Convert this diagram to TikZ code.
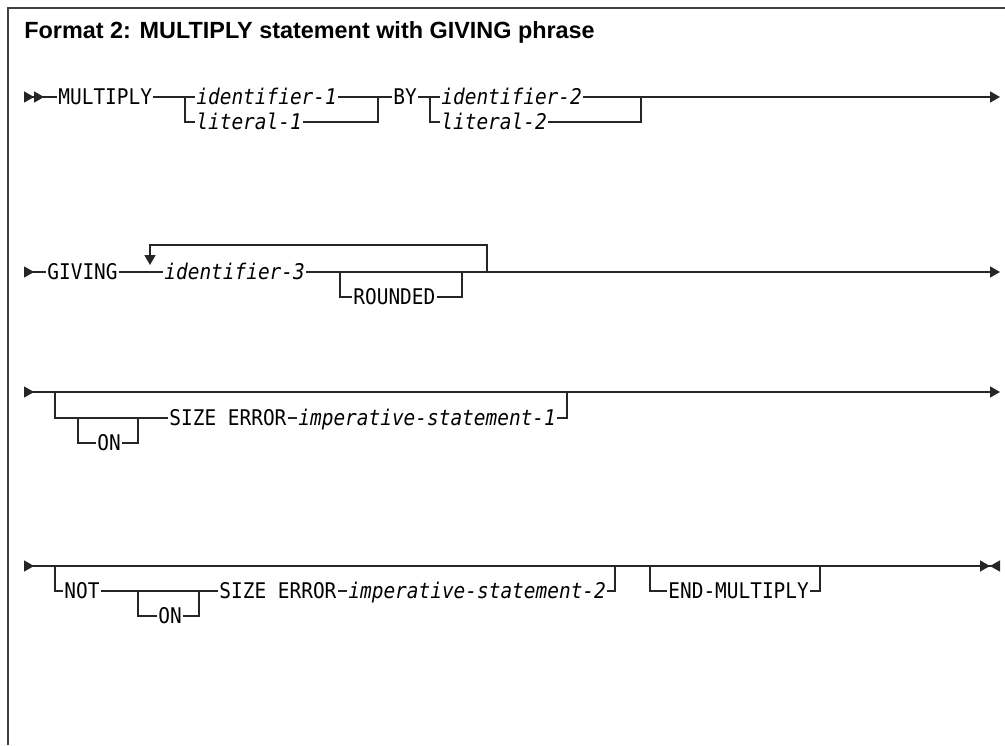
\documentclass[tikz,border=0pt]{standalone}
\usepackage{fontspec}
\setmainfont{Liberation Sans}
\newfontfamily\railfont[FakeStretch=0.9]{DejaVu Sans Mono}
\usetikzlibrary{arrows.meta}

\begin{document}
\begin{tikzpicture}[
  x=0.5pt, y=-0.5pt,
  rail/.style     ={draw=black!85,line width=0.7pt},
  frameline/.style={draw=black!75,line width=1pt},
  synkw/.style    ={font=\railfont\fontsize{10.8}{12}\selectfont,inner sep=0.5pt,
                    text height=7.9pt,text depth=0pt,anchor=west},
  synvar/.style   ={synkw,font=\railfont\itshape\fontsize{10.8}{12}\selectfont},
  heading/.style  ={font=\bfseries\fontsize{11.7}{14}\selectfont,inner sep=0pt,anchor=west},
  railstart/.style ={{Triangle[reversed,length=5pt,width=5.5pt]}-},
  railfirst/.style ={{Triangle[reversed,length=5pt,width=5.5pt]Triangle[reversed,length=5pt,width=5.5pt]}-},
  railcont/.style  ={-{Triangle[length=5pt,width=5.5pt]}},
  railend/.style   ={-{Triangle[length=5pt,width=5.5pt]Triangle[reversed,length=5pt,width=5.5pt]}},
]
\useasboundingbox (0,0) rectangle (1005,745);

%% frame and heading
\draw[frameline] (8,745) -- (8,8) -- (1005,8);
\node[heading] (title) at (24,32) {Format 2: MULTIPLY statement with GIVING phrase};

%% ======================================================
%% Row 1: MULTIPLY ... BY ...
%% ======================================================
\coordinate (s1)  at (24,97);
\node[synkw]  (mult) at (57,97)   {MULTIPLY};
\coordinate (b1)  at (185,97);
\node[synvar] (id1)  at (195,97)  {identifier-1};
\node[synvar] (lit1) at (195,122) {literal-1};
\coordinate (j1)  at (378,97);
\node[synkw]  (by)   at (392,97)  {BY};
\coordinate (b2)  at (430,97);
\node[synvar] (id2)  at (440,97)  {identifier-2};
\node[synvar] (lit2) at (440,122) {literal-2};
\coordinate (j2)  at (641,97);
\coordinate (e1)  at (1000,97);

\draw[rail,railfirst] (s1) -- (mult);
\draw[rail] (mult) -- (b1) -- (id1);
\draw[rail] (id1) -- (j1) -- (by);
\draw[rail] (b1) |- (lit1);
\draw[rail] (lit1) -| (j1);
\draw[rail] (by) -- (b2) -- (id2);
\draw[rail] (id2) -- (j2);
\draw[rail] (b2) |- (lit2);
\draw[rail] (lit2) -| (j2);
\draw[rail,railcont] (j2) -- (e1);

%% ======================================================
%% Row 2: GIVING with repeat loop
%% ======================================================
\coordinate (s2)  at (24,272);
\node[synkw]  (giving) at (46,272)  {GIVING};
\node[synvar] (id3)    at (163,272) {identifier-3};
\coordinate (b3)  at (340,272);
\node[synkw]  (rnd)    at (352,297) {ROUNDED};
\coordinate (j3)  at (462,272);
\coordinate (lj)  at (487,272);
\coordinate (lt)  at (150,245);
\coordinate (lh)  at (150,265);
\coordinate (e2)  at (1000,272);

\draw[rail,railstart] (s2) -- (giving);
\draw[rail] (giving) -- (id3);
\draw[rail] (id3) -- (b3) -- (j3) -- (lj);
\draw[rail,railcont] (lj) -- (e2);
\draw[rail] (b3) |- (rnd);
\draw[rail] (rnd) -| (j3);
\draw[rail,railcont] (lj) |- (lt) -- (lh);

%% ======================================================
%% Row 3: ON SIZE ERROR
%% ======================================================
\coordinate (s3)  at (24,392);
\coordinate (b4)  at (55,392);
\coordinate (b5)  at (78,418);
\node[synkw]  (on1)  at (96,443)  {ON};
\coordinate (j5)  at (138,418);
\node[synkw]  (se1)  at (168,418) {SIZE ERROR};
\node[synvar] (imp1) at (297,418) {imperative-statement-1};
\coordinate (j4)  at (567,392);
\coordinate (e3)  at (1000,392);

\draw[rail,railstart] (s3) -- (b4);
\draw[rail] (b4) -- (j4);
\draw[rail,railcont] (j4) -- (e3);
\draw[rail] (b4) |- (b5) -- (se1);
\draw[rail] (b5) |- (on1);
\draw[rail] (on1) -| (j5);
\draw[rail] (se1) -- (imp1);
\draw[rail] (imp1) -| (j4);

%% ======================================================
%% Row 4: NOT ON SIZE ERROR, END-MULTIPLY
%% ======================================================
\coordinate (s4)  at (24,566);
\coordinate (b6)  at (55,566);
\node[synkw]  (not)  at (63,591)  {NOT};
\coordinate (b7)  at (138,591);
\node[synkw]  (on2)  at (157,616) {ON};
\coordinate (j7)  at (199,591);
\node[synkw]  (se2)  at (218,591) {SIZE ERROR};
\node[synvar] (imp2) at (347,591) {imperative-statement-2};
\coordinate (j6)  at (615,566);
\coordinate (b9)  at (650,566);
\node[synkw]  (endm) at (667,591) {END-MULTIPLY};
\coordinate (j9)  at (820,566);
\coordinate (e4)  at (1000,566);

\draw[rail,railstart] (s4) -- (b6);
\draw[rail] (b6) -- (j6) -- (b9) -- (j9);
\draw[rail,railend] (j9) -- (e4);
\draw[rail] (b6) |- (not);
\draw[rail] (not) -- (b7) -- (se2);
\draw[rail] (b7) |- (on2);
\draw[rail] (on2) -| (j7);
\draw[rail] (se2) -- (imp2);
\draw[rail] (imp2) -| (j6);
\draw[rail] (b9) |- (endm);
\draw[rail] (endm) -| (j9);

\end{tikzpicture}
\end{document}
